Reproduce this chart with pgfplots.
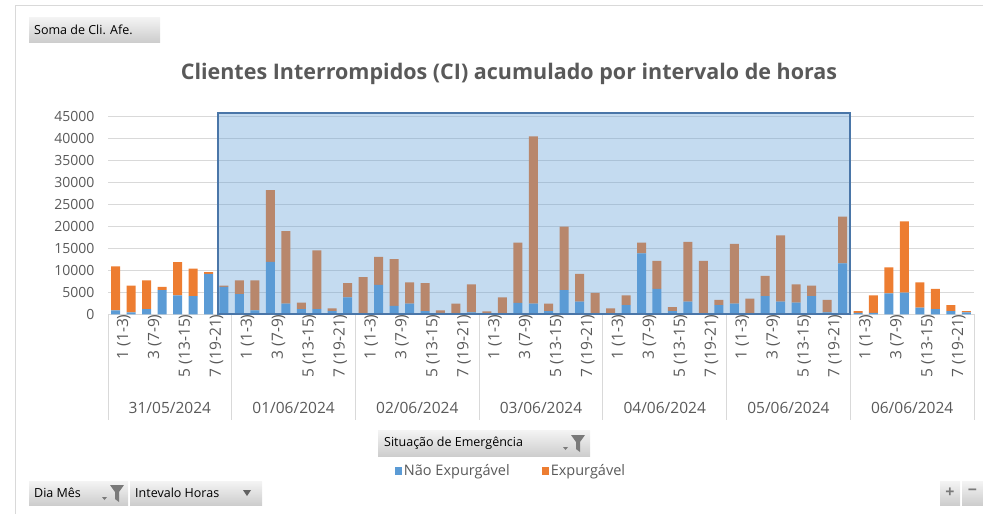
\documentclass[border=0pt]{standalone}
\usepackage{pgfplots}
\pgfplotsset{compat=1.18}
\usepackage{pgfplotstable}
\usepackage{fontspec}
\setmainfont{Open Sans}
\definecolor{cblue}{HTML}{5B9BD5}
\definecolor{corange}{HTML}{ED7D31}
\definecolor{txt}{HTML}{595959}
\definecolor{gridc}{HTML}{D9D9D9}
\definecolor{hlborder}{HTML}{4A76A8}
\definecolor{btnTop}{HTML}{F4F4F4}
\definecolor{btnBot}{HTML}{CDCDCD}
\definecolor{icon}{HTML}{7A7A7A}

% x, Nao Expurgavel (blue), Expurgavel (orange)
\pgfplotstableread{
x b o
0 900 10000
1 450 6040
2 1150 6550
3 5500 700
4 4300 7550
5 4100 6250
6 9200 400
7 6200 300
8 4600 3100
9 900 6800
10 11900 16300
11 2400 16500
12 1150 1500
13 1150 13350
14 700 650
15 3850 3200
16 100 8350
17 6700 6350
18 1900 10650
19 2400 4850
20 700 6350
21 300 600
22 50 2350
23 450 6350
24 50 630
25 50 3800
26 2600 13650
27 2400 38000
28 700 1700
29 5500 14400
30 2850 6350
31 50 4800
32 50 1300
33 2100 2200
34 13850 2400
35 5750 6350
36 700 950
37 2850 13600
38 50 12050
39 2100 1200
40 2400 13600
41 50 3500
42 4100 4600
43 2850 15050
44 2650 4150
45 4100 2400
46 450 2850
47 11550 10600
48 300 450
49 300 4000
50 4750 5900
51 4900 16200
52 1500 5750
53 1150 4600
54 700 1400
55 450 300
}\datatable

\begin{document}
\begin{tikzpicture}[x=1pt,y=1pt]
\path[use as bounding box] (0,0) rectangle (983,-514);
\draw[gridc, line width=0.8pt] (15.5,-514) -- (15.5,-5.5) -- (983,-5.5);

% title
\node[text=txt, font=\bfseries\fontsize{21.5}{21.5}\selectfont] at (509,-74) {Clientes Interrompidos (CI) acumulado por intervalo de horas};

% buttons
\shade[top color=btnTop, bottom color=btnBot] (29,-17) rectangle (160,-42);
\node[anchor=west, inner sep=0, font=\fontsize{12.5}{12.5}\selectfont] at (34,-29.5) {Soma de Cli. Afe.};

\shade[top color=btnTop, bottom color=btnBot] (378,-430) rectangle (590,-456);
\node[anchor=west, inner sep=0, font=\fontsize{12.5}{12.5}\selectfont] at (384,-443) {Situação de Emergência};
\fill[icon] (571,-435) -- (585,-435) -- (580,-442) -- (580,-452) -- (576,-449) -- (576,-442) -- cycle;
\fill[icon] (563,-447) -- (568,-447) -- (565.5,-450) -- cycle;

\shade[top color=btnTop, bottom color=btnBot] (29,-481) rectangle (128,-505);
\node[anchor=west, inner sep=0, font=\fontsize{12.5}{12.5}\selectfont] at (34,-493) {Dia Mês};
\fill[icon] (110,-485) -- (124,-485) -- (119,-492) -- (119,-502) -- (115,-499) -- (115,-492) -- cycle;
\fill[icon] (102,-497) -- (107,-497) -- (104.5,-500) -- cycle;

\shade[top color=btnTop, bottom color=btnBot] (130,-481) rectangle (262,-505);
\node[anchor=west, inner sep=0, font=\fontsize{12.5}{12.5}\selectfont] at (135,-493) {Intevalo Horas};
\fill[icon!80!black] (243,-490) -- (251,-490) -- (247,-496) -- cycle;

\shade[top color=btnTop, bottom color=btnBot] (940,-481) rectangle (960,-505);
\shade[top color=btnTop, bottom color=btnBot] (962,-481) rectangle (983,-505);
\node[text=icon, font=\bfseries\fontsize{16}{16}\selectfont] at (950,-492.5) {+};
\node[text=icon, font=\bfseries\fontsize{16}{16}\selectfont] at (972.5,-492.5) {−};

\begin{axis}[
  at={(108pt,-314.3pt)}, anchor=south west,
  scale only axis, width=866pt, height=198.3pt,
  xmin=-0.5, xmax=55.5, ymin=0, ymax=45000,
  ybar stacked, bar width=9pt,
  axis line style={draw=none},
  ymajorgrids, grid style={gridc, line width=0.8pt},
  scaled y ticks=false,
  ytick={0,5000,10000,15000,20000,25000,30000,35000,40000,45000},
  yticklabels={0,5000,10000,15000,20000,25000,30000,35000,40000,45000},
  yticklabel style={font=\fontsize{14}{14}\selectfont, text=txt, xshift=-10pt},
  xtick={0,2,...,54},
  xticklabels={1 (1-3),3 (7-9),5 (13-15),7 (19-21),1 (1-3),3 (7-9),5 (13-15),7 (19-21),1 (1-3),3 (7-9),5 (13-15),7 (19-21),1 (1-3),3 (7-9),5 (13-15),7 (19-21),1 (1-3),3 (7-9),5 (13-15),7 (19-21),1 (1-3),3 (7-9),5 (13-15),7 (19-21),1 (1-3),3 (7-9),5 (13-15),7 (19-21)},
  xticklabel style={rotate=90, anchor=east, font=\fontsize{15.5}{15.5}\selectfont, text=txt, inner sep=0pt, yshift=-8pt},
  major tick length=0pt,
  clip=false,
  legend columns=2,
  legend style={at={(0.4654,-0.79)}, anchor=center, draw=none, fill=none,
    font=\fontsize{14.5}{14.5}\selectfont, text=txt,
    /tikz/every even column/.append style={column sep=30pt}},
  legend image code/.code={\fill[#1] (0pt,-4pt) rectangle (7pt,4pt);},
]
\addplot[fill=cblue, draw=none] table[x=x, y=b] {\datatable};
\addlegendentry{Não Expurgável}
\addplot[fill=corange, draw=none] table[x=x, y=o] {\datatable};
\addlegendentry{Expurgável}

\coordinate (hlA) at (axis cs:6.62,0);
\coordinate (hlB) at (axis cs:47.5,45650);

\draw[gridc, line width=0.8pt] (axis cs:-0.5,0) -- ++(0pt,-106pt);
\draw[gridc, line width=0.8pt] (axis cs:7.5,0) -- ++(0pt,-106pt);
\draw[gridc, line width=0.8pt] (axis cs:15.5,0) -- ++(0pt,-106pt);
\draw[gridc, line width=0.8pt] (axis cs:23.5,0) -- ++(0pt,-106pt);
\draw[gridc, line width=0.8pt] (axis cs:31.5,0) -- ++(0pt,-106pt);
\draw[gridc, line width=0.8pt] (axis cs:39.5,0) -- ++(0pt,-106pt);
\draw[gridc, line width=0.8pt] (axis cs:47.5,0) -- ++(0pt,-106pt);
\draw[gridc, line width=0.8pt] (axis cs:55.5,0) -- ++(0pt,-106pt);

\node[text=txt, font=\fontsize{15.5}{15.5}\selectfont] at (axis cs:3.5,0) [yshift=-94pt] {31/05/2024};
\node[text=txt, font=\fontsize{15.5}{15.5}\selectfont] at (axis cs:11.5,0) [yshift=-94pt] {01/06/2024};
\node[text=txt, font=\fontsize{15.5}{15.5}\selectfont] at (axis cs:19.5,0) [yshift=-94pt] {02/06/2024};
\node[text=txt, font=\fontsize{15.5}{15.5}\selectfont] at (axis cs:27.5,0) [yshift=-94pt] {03/06/2024};
\node[text=txt, font=\fontsize{15.5}{15.5}\selectfont] at (axis cs:35.5,0) [yshift=-94pt] {04/06/2024};
\node[text=txt, font=\fontsize{15.5}{15.5}\selectfont] at (axis cs:43.5,0) [yshift=-94pt] {05/06/2024};
\node[text=txt, font=\fontsize{15.5}{15.5}\selectfont] at (axis cs:51.5,0) [yshift=-94pt] {06/06/2024};
\end{axis}
\draw[hlborder, line width=1.8pt, fill=cblue, fill opacity=0.36] (hlA) rectangle (hlB);
\end{tikzpicture}
\end{document}
